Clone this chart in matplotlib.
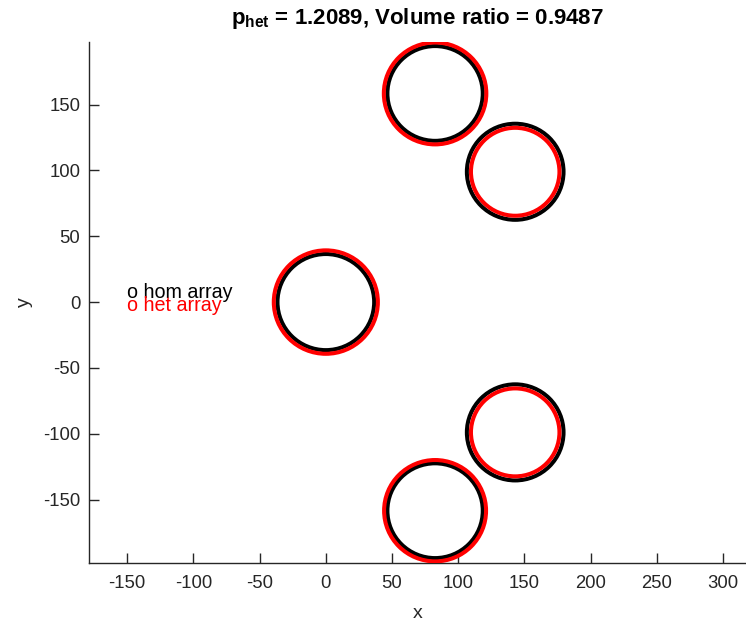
import numpy as np
import matplotlib
matplotlib.use("Agg")
import matplotlib.pyplot as plt
from matplotlib.patches import Circle

plt.rcParams['font.family'] = ['Liberation Sans', 'DejaVu Sans']
plt.rcParams['axes.unicode_minus'] = False
plt.rcParams['mathtext.fontset'] = 'custom'
plt.rcParams['mathtext.bf'] = 'Liberation Sans:bold'

# cylinder centres and radii, homogeneous vs heterogeneous array
hom_x = [0.0, 82.5, 143.0, 143.0, 82.5]
hom_y = [0.0, 158.5, 99.0, -99.0, -158.5]
hom_r = [36.5, 36.0, 36.5, 36.5, 36.0]

het_x = [0.0, 82.5, 143.0, 143.0, 82.5]
het_y = [0.0, 158.5, 99.0, -99.0, -158.5]
het_r = [39.3, 38.7, 33.4, 33.4, 38.5]

p_het = 1.2089
vol_ratio = 0.9487

GRAY = (0.15, 0.15, 0.15)

fig = plt.figure(figsize=(7.46, 6.23), dpi=100)
ax = fig.add_axes([0.1190, 0.0968, 0.8805, 0.8358])

for x, y, r in zip(hom_x, hom_y, hom_r):
    ax.add_patch(Circle((x, y), r, fill=False, ec="k", lw=2.9, zorder=2))
for x, y, r in zip(het_x, het_y, het_r):
    ax.add_patch(Circle((x, y), r, fill=False, ec="r", lw=2.9, zorder=3))

ax.text(-150, 7, "o hom array", color="k", fontsize=14.2, va="center", ha="left")
ax.text(-150, -2.5, "o het array", color="r", fontsize=14.2, va="center", ha="left")

ax.set_xlim(-179, 317)
ax.set_ylim(-198, 197.6)
ax.set_xticks(np.arange(-150, 301, 50))
ax.set_yticks(np.arange(-150, 151, 50))

for side in ("top", "right"):
    ax.spines[side].set_visible(False)
for side in ("left", "bottom"):
    ax.spines[side].set_color(GRAY)
    ax.spines[side].set_linewidth(1.0)
ax.tick_params(direction="in", length=7, width=1.0, colors=GRAY,
               labelsize=13.3, pad=6)
ax.tick_params(axis="x", pad=9)
for lbl in ax.get_xticklabels() + ax.get_yticklabels():
    lbl.set_color(GRAY)

ax.set_xlabel("x", fontsize=14, color=GRAY, labelpad=9)
ax.set_ylabel("y", fontsize=14, color=GRAY, labelpad=7)
ax.set_title(r"$\mathbf{p_{het}}$" + f" = {p_het:.4f}, Volume ratio = {vol_ratio:.4f}",
             fontsize=16, fontweight="bold", pad=13)

fig.savefig("out.png", dpi=100)
